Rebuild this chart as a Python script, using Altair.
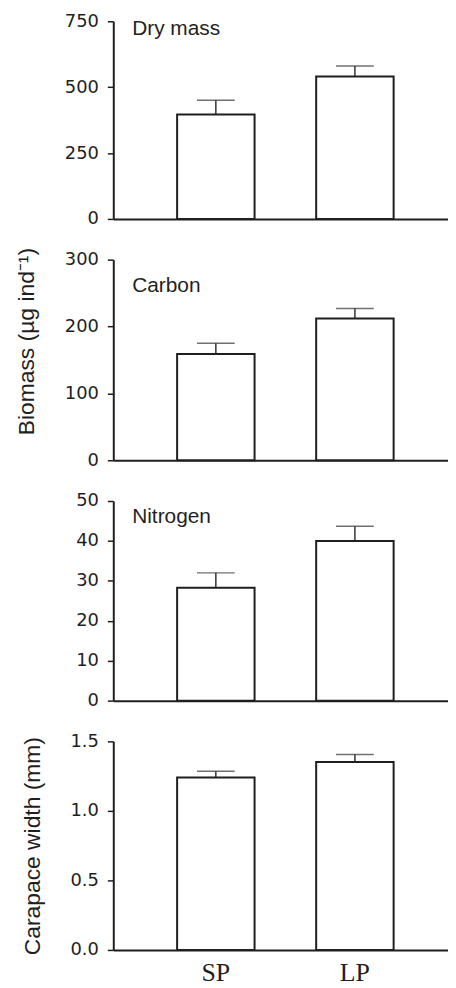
import altair as alt
import pandas as pd

# ---- data ----
groups = ["SP", "LP"]
panel_labels = ["Dry mass", "Carbon", "Nitrogen", ""]
dry_mass = [396, 540]
dry_mass_err = [54, 40]
carbon = [159, 212]
carbon_err = [16, 15]
nitrogen = [28.3, 40.0]
nitrogen_err = [3.7, 3.7]
carapace = [1.24, 1.352]
carapace_err = [0.045, 0.053]

y_domains = [[0, 750], [0, 300], [0, 50], [0, 1.5]]
y_ticks = [[0, 250, 500, 750], [0, 100, 200, 300], [0, 10, 20, 30, 40, 50], [0.0, 0.5, 1.0, 1.5]]
y_formats = ["d", "d", "d", ".1f"]
y_titles = [None, "Biomass (µg ind⁻¹)", None, "Carapace width (mm)"]
heights = [199, 202, 201, 210]

values = [dry_mass, carbon, nitrogen, carapace]
errors = [dry_mass_err, carbon_err, nitrogen_err, carapace_err]

INK = "#1f1f1f"
W = 337


def panel(i):
    df = pd.DataFrame({
        "group": groups,
        "value": values[i],
        "upper": [v + e for v, e in zip(values[i], errors[i])],
    })
    last = i == 3
    xaxis = alt.Axis(
        title=None,
        labels=last,
        ticks=False,
        domain=True,
        domainColor=INK,
        domainWidth=2,
        labelFont="Liberation Serif",
        labelFontSize=26,
        labelColor=INK,
        labelPadding=10,
        labelAngle=0,
    )
    x = alt.X(
        "group:N",
        sort=groups,
        scale=alt.Scale(paddingInner=0.443, paddingOuter=0.425, align=0.54),
        axis=xaxis,
    )
    yaxis_kwargs = dict(
        values=y_ticks[i],
        format=y_formats[i],
        grid=False,
        domainColor=INK,
        domainWidth=2,
        tickColor=INK,
        tickWidth=1.5,
        tickSize=6,
        labelFont="DejaVu Sans",
        labelFontSize=18,
        labelColor=INK,
        labelPadding=9,
        titleFont="Liberation Sans",
        titleFontSize=23,
        titleFontWeight="normal",
        titleColor=INK,
        titlePadding=26,
    )
    yaxis_kwargs["title"] = y_titles[i]
    if i == 1:
        yaxis_kwargs["titleY"] = 82
    y = alt.Y("value:Q", scale=alt.Scale(domain=y_domains[i], nice=False, zero=True),
              axis=alt.Axis(**yaxis_kwargs))

    base = alt.Chart(df).encode(x=x)
    bars = base.mark_bar(fill="white", stroke=INK, strokeWidth=2).encode(y=y)
    stem = base.mark_rule(color="#333333", strokeWidth=1.5).encode(
        y=alt.Y("value:Q"), y2="upper:Q")
    cap = base.mark_tick(orient="horizontal", size=38, thickness=1.5, color="#333333").encode(
        y=alt.Y("upper:Q"))
    layers = [stem, cap, bars]
    if panel_labels[i]:
        lab_df = pd.DataFrame({"label": [panel_labels[i]]})
        label_y = [14, 33, 22][i]
        lab = alt.Chart(lab_df).mark_text(
            align="left", baseline="alphabetic", font="Liberation Sans",
            fontSize=21, color=INK,
        ).encode(text="label:N", x=alt.value(19), y=alt.value(label_y))
        layers.append(lab)
    return alt.layer(*layers).properties(width=W, height=heights[i])


chart = alt.vconcat(*[panel(i) for i in range(4)], spacing=41, bounds="flush").properties(
    padding={"left": 7, "top": 1, "right": 0, "bottom": 5}
).configure_view(stroke=None)

chart.save("out.html", embed_options={"renderer": "svg", "actions": False})
